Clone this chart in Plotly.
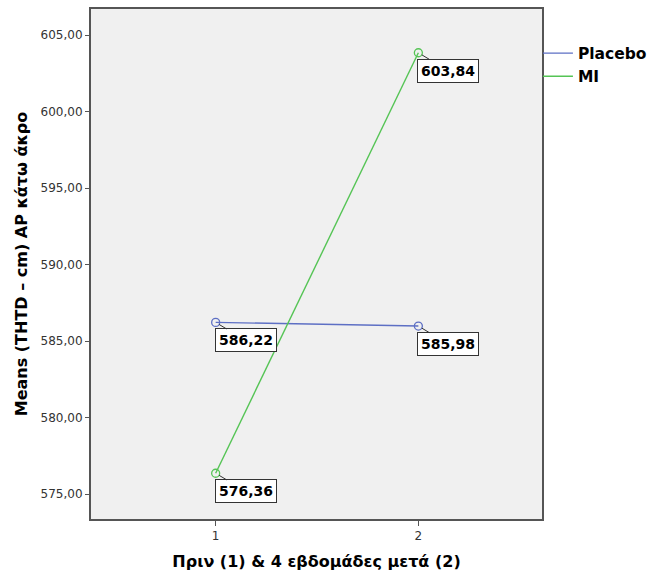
import plotly.graph_objects as go

time_points = [1, 2]
placebo = [586.22, 585.98]
mi = [576.36, 603.84]
series_names = ["Placebo", "MI"]
series_colors = ["#5d6fc4", "#55c455"]
y_ticks = [575, 580, 585, 590, 595, 600, 605]

fig = go.Figure()
for name, vals, col in zip(series_names, [placebo, mi], series_colors):
    fig.add_trace(go.Scatter(
        x=time_points, y=vals, mode="lines", name="<b>" + name + "</b>",
        line=dict(color=col, width=1.4),
    ))
    fig.add_trace(go.Scatter(
        x=time_points, y=vals, mode="markers", showlegend=False,
        marker=dict(symbol="circle-open", size=8, color=col, line=dict(width=1.3)),
    ))
    for xv, yv in zip(time_points, vals):
        fig.add_annotation(
            x=xv, y=yv, xref="x", yref="y",
            text="<b>" + f"{yv:.2f}".replace(".", ",") + "</b>",
            showarrow=True, arrowhead=0, arrowwidth=1, arrowcolor="#333",
            ax=30, ay=18, standoff=4,
            bgcolor="white", bordercolor="#333", borderwidth=1, borderpad=3,
            font=dict(family="DejaVu Sans", size=14, color="black"),
        )

axis_font = dict(family="DejaVu Sans", size=12, color="#333")
title_font = dict(family="DejaVu Sans", size=16, color="black")
fig.update_layout(
    width=653, height=575,
    margin=dict(l=91, r=111, t=9, b=56, autoexpand=False),
    paper_bgcolor="white", plot_bgcolor="#f0f0f0",
    separators=",.",
    showlegend=True,
    legend=dict(x=0.991, xanchor="left", y=0.946, yanchor="top",
                bgcolor="rgba(0,0,0,0)", borderwidth=0,
                font=dict(family="DejaVu Sans", size=15.5, color="black"),
                tracegroupgap=0, itemwidth=30),
    xaxis=dict(range=[0.385, 2.61], tickvals=time_points, ticktext=["1", "2"],
               showgrid=False, zeroline=False, showline=True, mirror=True,
               linecolor="#555", linewidth=2, ticks="outside", ticklen=5,
               tickcolor="#555", tickfont=axis_font, automargin=False,
               title=dict(text="<b>Πριν (1) & 4 εβδομάδες μετά (2)</b>",
                          font=title_font, standoff=13)),
    yaxis=dict(range=[573.37, 606.70], tickvals=y_ticks, tickformat=".2f",
               showgrid=False, zeroline=False, showline=True, mirror=True,
               linecolor="#555", linewidth=2, ticks="outside", ticklen=4,
               tickcolor="#555", tickfont=axis_font, automargin=False,
               title=dict(text="<b>Means (THTD – cm) AP κάτω άκρο</b>",
                          font=title_font, standoff=9)),
)
fig.write_html("out.html", config={"displayModeBar": False},
               post_script="document.body.style.margin='0';")
